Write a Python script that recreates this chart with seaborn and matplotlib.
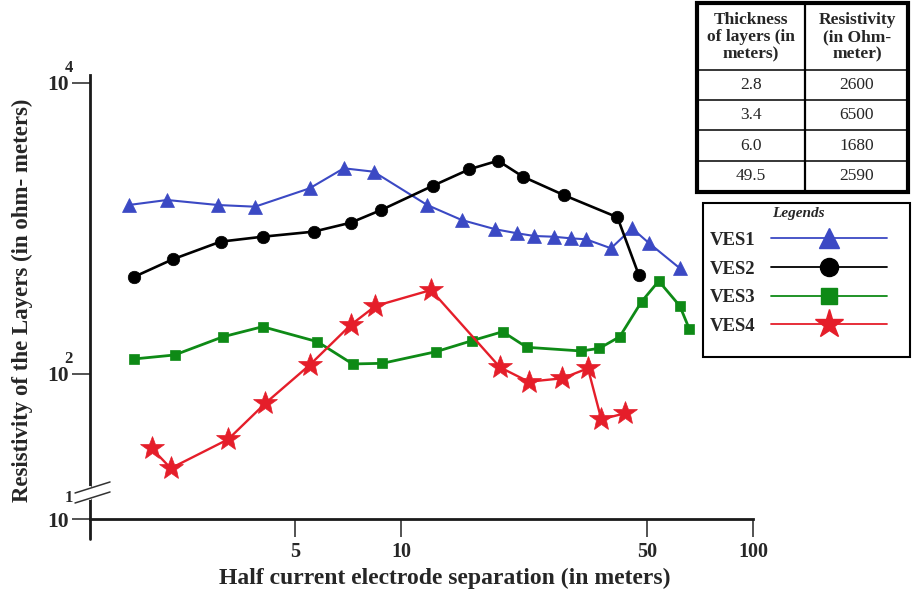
import matplotlib
matplotlib.use("Agg")
import matplotlib.pyplot as plt
from matplotlib.lines import Line2D
from matplotlib.patches import Rectangle
from matplotlib.ticker import NullLocator
import seaborn as sns

# =====================
# DATA
# =====================
ves1_x = [1.684, 2.164, 3.018, 3.848, 5.503, 6.879, 8.358, 11.87, 14.87, 18.53,
          21.37, 23.93, 27.12, 30.35, 33.54, 39.49, 45.33, 50.71, 61.94]
ves1_y = [1450, 1570, 1450, 1412, 1889, 2593, 2457, 1450, 1144, 988,
          927, 888, 878, 856, 843, 731, 1003, 791, 533]

ves2_x = [1.748, 2.246, 3.072, 4.045, 5.642, 7.196, 8.79, 12.33, 15.63, 18.86,
          22.20, 29.08, 41.19, 47.37]
ves2_y = [466, 614, 812, 878, 951, 1096, 1341, 1969, 2552, 2924,
          2270, 1692, 1194, 479]

ves3_x = [1.740, 2.274, 3.125, 4.045, 5.788, 7.286, 8.853, 12.57, 15.91, 19.44,
          22.76, 32.54, 36.61, 41.81, 48.23, 53.97, 61.94, 65.97]
ves3_y = [126.8, 135.1, 180.4, 211.4, 166.7, 117.2, 118.4, 142.3, 169.4, 195.3,
          152.6, 143.9, 150.2, 180.4, 314.0, 435.6, 293.4, 202.9]

ves4_x = [1.958, 2.218, 3.229, 4.117, 5.503, 7.196, 8.463, 12.17, 19.10, 23.04,
          28.72, 33.96, 37.07, 43.31]
ves4_y = [30.85, 22.49, 35.58, 62.9, 115.3, 217.2, 293.4, 377.8, 111.2, 88.5,
          93.4, 109.4, 48.8, 53.7]

series_names = ["VES1", "VES2", "VES3", "VES4"]

x_ticks = [5, 10, 50, 100]
x_tick_labels = ["5", "10", "50", "100"]
y_ticks = [10, 100, 10000]
y_tick_labels = ["10", "10", "10"]
y_tick_powers = ["1", "2", "4"]

table_header = ["Thickness\nof layers (in\nmeters)", "Resistivity\n(in Ohm-\nmeter)"]
thickness = ["2.8", "3.4", "6.0", "49.5"]
resistivity = ["2600", "6500", "1680", "2590"]

# =====================
# STYLE
# =====================
sns.set_style("ticks")
plt.rcParams["font.family"] = ["Liberation Serif", "DejaVu Serif"]

c_blue = "#3B49C4"
c_black = "#000000"
c_green = "#0E8A16"
c_red = "#E51E2A"

fig = plt.figure(figsize=(9.13, 5.91), dpi=100)
ax = fig.add_axes([0.0986, 0.121, 0.7262, 0.7521])
ax.set_xscale("log")
ax.set_yscale("log")

# =====================
# CURVES
# =====================
sns.lineplot(x=ves1_x, y=ves1_y, ax=ax, color=c_blue, linewidth=1.5,
             marker="^", markersize=10, markeredgecolor=c_blue, markeredgewidth=0.5)
sns.lineplot(x=ves2_x, y=ves2_y, ax=ax, color=c_black, linewidth=1.9,
             marker="o", markersize=9, markeredgecolor=c_black, markeredgewidth=0.5)
sns.lineplot(x=ves3_x, y=ves3_y, ax=ax, color=c_green, linewidth=2.0,
             marker="s", markersize=7.5, markeredgecolor=c_green, markeredgewidth=0.5)
sns.lineplot(x=ves4_x, y=ves4_y, ax=ax, color=c_red, linewidth=1.7,
             marker="*", markersize=18, markeredgecolor=c_red, markeredgewidth=0.5)

# =====================
# AXES
# =====================
ax.set_xlim(1.308, 100)
ax.set_ylim(10, 11350)
ax.spines["top"].set_visible(False)
ax.spines["right"].set_visible(False)
for side in ["left", "bottom"]:
    ax.spines[side].set_linewidth(2.0)
    ax.spines[side].set_color("#1a1a1a")

ax.set_xticks(x_ticks)
ax.set_xticklabels(x_tick_labels)
ax.set_yticks(y_ticks)
ax.set_yticklabels(y_tick_labels)
ax.xaxis.set_minor_locator(NullLocator())
ax.yaxis.set_minor_locator(NullLocator())
ax.tick_params(axis="both", length=13, width=1.3, color="#444444")
ax.tick_params(axis="x", labelsize=14.5, pad=3)
ax.tick_params(axis="y", labelsize=15.5, pad=2)
for lbl in ax.get_xticklabels() + ax.get_yticklabels():
    lbl.set_fontweight("bold")

# superscript exponents next to the "10" labels
for val, pw in zip(y_ticks, y_tick_powers):
    dy = 15.5 if pw == "1" else 10.5
    ax.annotate(pw, xy=(0, val), xycoords=("axes fraction", "data"),
                xytext=(-15.5, dy), textcoords="offset points",
                ha="center", va="center", fontsize=12, fontweight="bold")

# axis break marks near 10^1 and spine tail below the x axis
ax.plot([0, 0], [0.0484, 0.0709], transform=ax.transAxes, color="white",
        lw=3, clip_on=False, zorder=5)
ax.plot([-0.0226, 0.0302], [0.0596, 0.0844], transform=ax.transAxes,
        color="#333333", lw=1.1, clip_on=False, zorder=6)
ax.plot([-0.0226, 0.0302], [0.0371, 0.0619], transform=ax.transAxes,
        color="#333333", lw=1.1, clip_on=False, zorder=6)
ax.plot([0, 0], [0, -0.045], transform=ax.transAxes, color="#1a1a1a",
        lw=2.0, clip_on=False)

ax.set_xlabel("Half current electrode separation (in meters)",
              fontsize=17, fontweight="bold", va="center")
ax.xaxis.set_label_coords(0.535, -0.1316)
ax.set_ylabel("Resistivity of the Layers (in ohm- meters)",
              fontsize=16.5, fontweight="bold", va="center")
ax.yaxis.set_label_coords(-0.1026, 0.494)

# =====================
# LEGEND
# =====================
handles = [
    Line2D([], [], color=c_blue, lw=1.3, marker="^", markersize=14, mec=c_blue),
    Line2D([], [], color=c_black, lw=1.3, marker="o", markersize=13, mec=c_black),
    Line2D([], [], color=c_green, lw=1.3, marker="s", markersize=11, mec=c_green),
    Line2D([], [], color=c_red, lw=1.3, marker="*", markersize=21, mec=c_red),
]
ax.legend(handles, series_names, title="Legends", loc="upper left",
          bbox_to_anchor=(710 / 913, 1 - 207 / 591), bbox_transform=fig.transFigure,
          frameon=False, markerfirst=False, handlelength=6.2, handletextpad=0.8,
          labelspacing=0.62, borderpad=0, borderaxespad=0,
          prop=dict(weight="bold", size=13.5, family="Liberation Serif"),
          title_fontproperties=dict(style="italic", weight="bold", size=11,
                                    family="Liberation Serif"))
fig.add_artist(Rectangle((703 / 913, 1 - 357 / 591), 207 / 913, 154 / 591,
                         transform=fig.transFigure, fill=False,
                         edgecolor="black", linewidth=1.5))

# =====================
# TABLE (top right)
# =====================
tax = fig.add_axes([697 / 913, 1 - 192 / 591, 211 / 913, 189 / 591])
tax.set_xlim(697, 908)
tax.set_ylim(192, 3)
tax.axis("off")
row_edges = [3, 70, 100, 130, 161, 192]
col_mid = 805
tax.add_patch(Rectangle((697, 3), 211, 189, fill=False, edgecolor="black",
                        linewidth=3, clip_on=False))
for yl in row_edges[1:-1]:
    tax.plot([697, 908], [yl, yl], color="black", lw=1.1)
tax.plot([col_mid, col_mid], [3, 192], color="black", lw=1.6)

col_centers = [751, 857]
for xc, head in zip(col_centers, table_header):
    tax.text(xc, 37, head, ha="center", va="center", fontsize=12.5,
             fontweight="bold", linespacing=1.12)
for i, (th, rs) in enumerate(zip(thickness, resistivity)):
    yc = (row_edges[i + 1] + row_edges[i + 2]) / 2
    tax.text(col_centers[0], yc, th, ha="center", va="center", fontsize=12.5)
    tax.text(col_centers[1], yc, rs, ha="center", va="center", fontsize=12.5)

plt.savefig("out.png", dpi=100)
